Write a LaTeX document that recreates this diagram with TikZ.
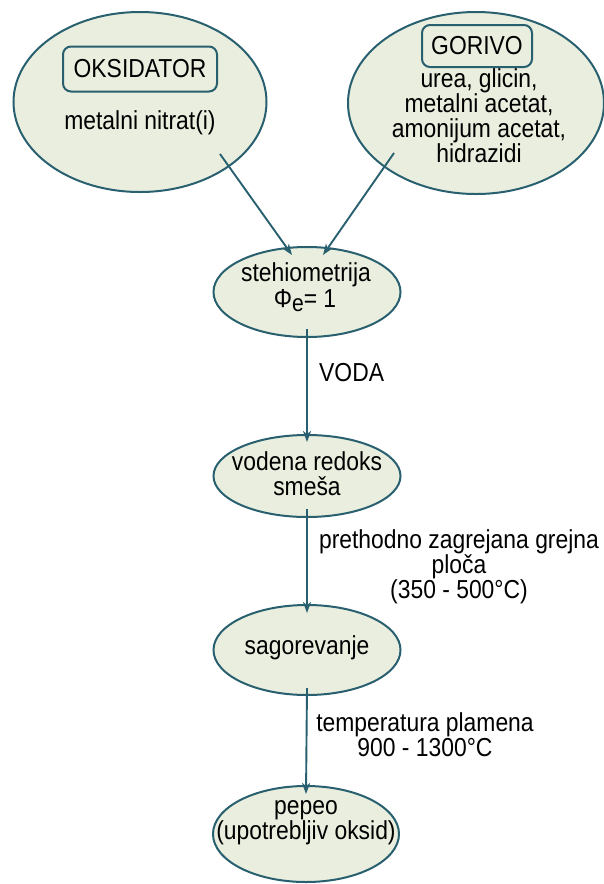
\documentclass[tikz,border=0pt]{standalone}
\usepackage{fontspec}
\setmainfont{Liberation Sans}[FakeStretch=0.88]
\usetikzlibrary{shapes.geometric,arrows.meta,calc}
\definecolor{bubfill}{RGB}{234,238,222}
\definecolor{bubline}{RGB}{40,96,112}
\tikzset{
  bub/.style={ellipse, draw=bubline, fill=bubfill, line width=2pt, inner sep=0pt},
  tag/.style={draw=bubline, fill=bubfill, line width=2pt, rounded corners=8pt, inner sep=0pt, font=\fontsize{26}{25}\selectfont},
  txt/.style={align=center, inner sep=0pt, font=\fontsize{26}{25}\selectfont},
  arr/.style={draw=bubline, line width=1.9pt, -{Stealth[length=11pt,width=8pt,inset=3pt]}}
}
\begin{document}
\begin{tikzpicture}[x=1pt,y=-1pt]
\useasboundingbox (0,0) rectangle (603,884);
% bubbles
\node[bub, minimum width=253pt, minimum height=180pt] (oks) at (140,102) {};
\node[bub, minimum width=256pt, minimum height=182pt] (gor) at (476,103) {};
\node[bub, minimum width=187pt, minimum height=90pt] (steh) at (307,292) {};
\node[bub, minimum width=187pt, minimum height=82pt] (vod) at (307,476) {};
\node[bub, minimum width=187pt, minimum height=90pt] (sag) at (307,650) {};
\node[bub, minimum width=186pt, minimum height=96pt] (pep) at (306,834) {};
% tags
\node[tag, minimum width=154pt, minimum height=45pt] (oksTag) at (140,69) {OKSIDATOR};
\node[tag, minimum width=110pt, minimum height=42pt] (gorTag) at (477,46) {GORIVO};
% texts
\node[txt] (oksTxt) at (140,123) {metalni nitrat(i)};
\node[txt] (gorTxt) at (479,116) {urea, glicin,\\metalni acetat,\\amonijum acetat,\\hidrazidi};
\node[txt] (stehTxt) at (306,275) {stehiometrija};
\node[txt] (phiTxt) at (305,301) {Φ\raisebox{-4pt}{\fontsize{24}{24}\selectfont e}= 1};
\node[txt] (vodTxt) at (307,474) {vodena redoks\\smeša};
\node[txt] (sagTxt) at (307,648) {sagorevanje};
\node[txt] (pepTxt) at (306,823) {pepeo\\(upotrebljiv oksid)};
% connectors
\draw[arr] ($(oks)+(80,52)$) -- ($(steh)+(-15,-37)$);
\draw[arr] ($(gor)+(-82,50)$) -- ($(steh)+(16,-37)$);
\draw[arr] ([yshift=9pt]steh.south) -- ([yshift=-8pt]vod.north);
\draw[arr] ([yshift=9pt]vod.south) -- ([yshift=-9pt]sag.north);
\draw[arr] ([yshift=8pt]sag.south) -- ([yshift=-9pt]pep.north);
% edge labels
\node[txt, anchor=west] (lVoda) at (319,373) {VODA};
\node[txt] (lPloca) at (459,567) {prethodno zagrejana grejna\\ploča\\(350 - 500°C)};
\node[txt] (lTemp) at (425,735) {temperatura plamena\\900 - 1300°C};
\end{tikzpicture}
\end{document}
